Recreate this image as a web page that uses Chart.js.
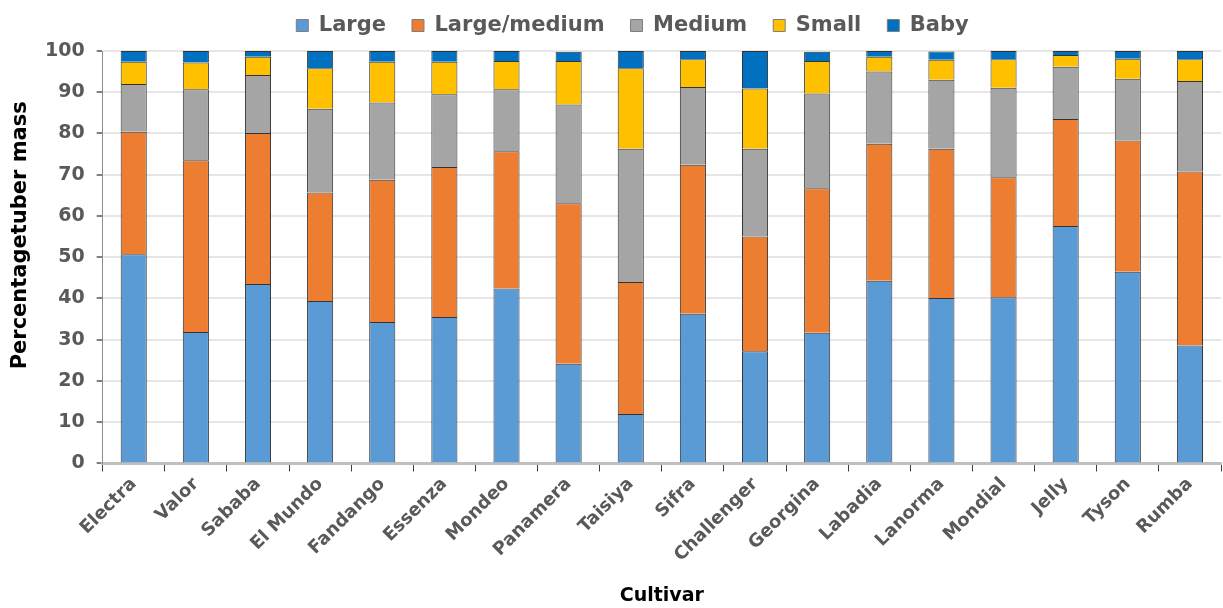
<!DOCTYPE html>
<html>
<head>
<meta charset="utf-8">
<script src="https://cdn.jsdelivr.net/npm/chart.js@4.4.1/dist/chart.umd.min.js"></script>
<style>
html,body{margin:0;padding:0;background:#fff;}
#wrap{width:1223px;height:608px;}
</style>
</head>
<body>
<div id="wrap"><canvas id="c" width="1223" height="608"></canvas></div>
<script>
const categories = ["Electra","Valor","Sababa","El Mundo","Fandango","Essenza","Mondeo","Panamera","Taisiya","Sifra","Challenger","Georgina","Labadia","Lanorma","Mondial","Jelly","Tyson","Rumba"];
const large       = [50.7,31.9,43.5,39.4,34.3,35.5,42.4,24.2,12.0,36.3,27.2,31.7,44.3,40.1,40.3,57.6,46.5,28.6];
const largeMedium = [29.7,41.6,36.6,26.3,34.5,36.4,33.3,38.9,32.0,36.1,27.8,35.0,33.2,36.2,29.1,25.9,31.8,42.2];
const medium      = [11.6,17.2,14.1,20.3,18.7,17.6,15.0,23.9,32.3,18.9,21.3,23.0,17.5,16.7,21.7,12.7,15.0,21.9];
const small       = [5.4,6.5,4.4,9.8,9.9,7.9,6.9,10.6,19.5,6.7,14.6,7.9,3.6,4.9,6.9,2.8,4.8,5.3];
const baby        = [2.6,2.8,1.4,4.2,2.6,2.6,2.4,2.2,4.2,2.0,9.1,2.2,1.4,2.0,2.0,1.0,1.9,2.0];
const seriesNames = ["Large","Large/medium","Medium","Small","Baby"];
const yTicks = [0,10,20,30,40,50,60,70,80,90,100];

const colors = ["#5B9BD5","#ED7D31","#A5A5A5","#FFC000","#0070C0"];
const seriesData = [large, largeMedium, medium, small, baby];
const FONT = '"DejaVu Sans", sans-serif';

const datasets = seriesNames.map((n,i)=>({
  label:n,
  data:seriesData[i],
  backgroundColor:colors[i],
  borderColor:"#333333",
  borderWidth:1,
  barPercentage:0.42,
  categoryPercentage:1.0
}));

const legendTweak = {
  id:'legendTweak',
  beforeInit(chart){
    const lg = chart.legend;
    if(!lg) return;
    const fit = lg.fit;
    lg.fit = function(){ fit.call(this); this.height -= 10; };
    const draw = lg.draw;
    lg.draw = function(){
      const ctx = chart.ctx;
      const oBottom = this.bottom, oH = this.height;
      this.bottom += 40; this.height += 40;
      ctx.save(); ctx.translate(17,-15);
      draw.call(this);
      ctx.restore();
      this.bottom = oBottom; this.height = oH;
    };
  }
};

new Chart(document.getElementById('c'),{
  type:'bar',
  data:{labels:categories,datasets},
  plugins:[legendTweak],
  options:{
    responsive:false,
    animation:false,
    layout:{padding:{left:10,right:2,top:4,bottom:1}},
    plugins:{
      legend:{
        position:'top',
        labels:{
          boxWidth:12,boxHeight:12,
          color:'#595959',
          font:{family:FONT,size:21,weight:'bold'},
          padding:26,
          generateLabels:(chart)=>{
            const items = Chart.defaults.plugins.legend.labels.generateLabels(chart);
            items.forEach(it=>{it.strokeStyle='#7f7f7f'; it.lineWidth=1;});
            return items;
          }
        }
      },
      tooltip:{enabled:false}
    },
    scales:{
      x:{
        stacked:true,
        grid:{display:true,drawOnChartArea:false,color:'#404040',tickLength:8,offset:true},
        border:{display:true,color:'#bfbfbf',width:3},
        ticks:{
          color:'#595959',
          font:{family:FONT,size:18,weight:'bold'},
          maxRotation:45,minRotation:45,autoSkip:false,padding:2
        },
        title:{display:true,text:'Cultivar',color:'#000',
          font:{family:FONT,size:19,weight:'bold'},padding:{top:16,bottom:0}}
      },
      y:{
        stacked:true,
        min:0,max:100,
        afterBuildTicks:(axis)=>{axis.ticks = yTicks.map(v=>({value:v}));},
        grid:{color:'#e6e6e6',lineWidth:2,tickLength:6,tickColor:'#7f7f7f'},
        border:{display:true,color:'#8c8c8c',width:1},
        ticks:{
          color:'#595959',
          font:{family:FONT,size:19,weight:'bold'},
          padding:12
        },
        title:{display:true,text:'      Percentagetuber mass',color:'#000',
          font:{family:FONT,size:21,weight:'bold',lineHeight:1.0},padding:{top:0,bottom:2}}
      }
    }
  }
});
</script>
</body>
</html>
